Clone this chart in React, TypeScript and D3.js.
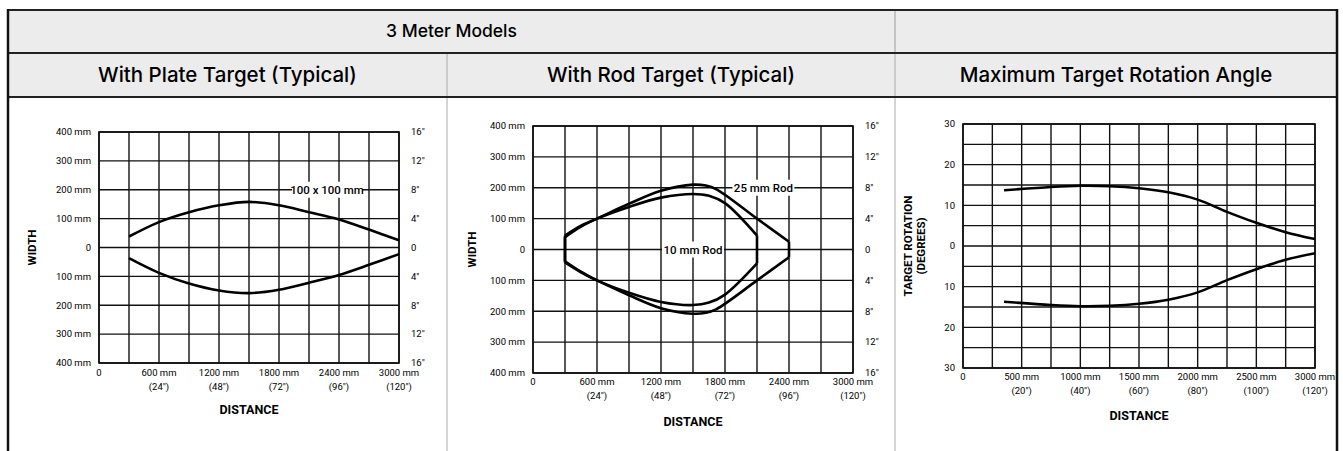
import React from 'react';
import * as d3 from 'd3';

// distance axis (plate + rod charts)
const distTicks = [0, 600, 1200, 1800, 2400, 3000];
const distMm = ['0', '600 mm', '1200 mm', '1800 mm', '2400 mm', '3000 mm'];
const distIn = ['', '(24")', '(48")', '(72")', '(96")', '(120")'];

// width axis
const widthTicks = [400, 300, 200, 100, 0, -100, -200, -300, -400];
const widthMm = ['400 mm', '300 mm', '200 mm', '100 mm', '0', '100 mm', '200 mm', '300 mm', '400 mm'];
const widthIn = ['16"', '12"', '8"', '4"', '0', '4"', '8"', '12"', '16"'];

// rotation chart axes
const rotDistTicks = [0, 500, 1000, 1500, 2000, 2500, 3000];
const rotDistMm = ['0', '500 mm', '1000 mm', '1500 mm', '2000 mm', '2500 mm', '3000 mm'];
const rotDistIn = ['', '(20")', '(40")', '(60")', '(80")', '(100")', '(120")'];
const rotTicks = [30, 20, 10, 0, -10, -20, -30];
const rotLabels = ['30', '20', '10', '0', '10', '20', '30'];

// curves: [distance mm, value]
const plateUpper = [[300, 38], [600, 88], [900, 122], [1200, 146], [1500, 158], [1800, 146], [2100, 122], [2400, 97], [2700, 62], [3000, 25]];
const plateLower = [[300, -37], [600, -88], [900, -125], [1200, -149], [1500, -158], [1800, -146], [2100, -122], [2400, -95], [2700, -60], [3000, -23]];

const rod25Upper = [[300, 45], [450, 77], [600, 100], [900, 148], [1200, 190], [1500, 210], [1620, 207], [1720, 195], [2100, 100], [2400, 25]];
const rod25Lower = [[300, -42], [450, -74], [600, -100], [900, -148], [1200, -190], [1500, -208], [1620, -205], [1720, -193], [2100, -100], [2400, -25]];
const rod10Upper = [[300, 40], [450, 74], [600, 100], [900, 138], [1200, 168], [1500, 180], [1650, 174], [1800, 150], [2100, 45]];
const rod10Lower = [[300, -38], [450, -72], [600, -100], [900, -140], [1200, -170], [1500, -180], [1650, -172], [1800, -146], [2100, -45]];

const rotUpper = [[350, 13.7], [750, 14.5], [1000, 14.8], [1250, 14.7], [1500, 14.2], [1750, 13.2], [2000, 11.4], [2250, 8.4], [2500, 5.7], [2750, 3.4], [3000, 1.7]];
const rotLower = [[350, -13.7], [750, -14.5], [1000, -14.8], [1250, -14.7], [1500, -14.2], [1750, -13.2], [2000, -11.4], [2250, -8.4], [2500, -5.7], [2750, -3.4], [3000, -1.8]];

const smallFont = 'Roboto, "Liberation Sans", Arial, sans-serif';
const headFont = 'Inter, "Liberation Sans", Arial, sans-serif';

function Chart({ left, top, width, height, xStep, yDomain, yStep, xTicks, xMm, xIn, yTicks, yLeft, yRight, curves, notes, yTitle, titleX, labelGap, distGap }) {
  const x = d3.scaleLinear().domain([0, 3000]).range([left, left + width]);
  const y = d3.scaleLinear().domain(yDomain).range([top + height, top]);
  const smooth = d3.line().x((d) => x(d[0])).y((d) => y(d[1])).curve(d3.curveCatmullRom.alpha(0.5));
  const bottom = top + height;

  return (
    <g>
      {/* grid */}
      {d3.range(0, 3000 + 1, xStep).map((v) => (
        <line key={'vx' + v} x1={x(v)} x2={x(v)} y1={top} y2={bottom} stroke="#111" strokeWidth={1.4} />
      ))}
      {d3.range(yDomain[0], yDomain[1] + 0.01, yStep).map((v) => (
        <line key={'hy' + v} x1={left} x2={left + width} y1={y(v)} y2={y(v)} stroke="#111" strokeWidth={1.4} />
      ))}
      <rect x={left} y={top} width={width} height={height} fill="none" stroke="#111" strokeWidth={1.6} />

      {/* curves */}
      {curves.map((c, i) => (
        <g key={i} fill="none" stroke="#000" strokeWidth={2.6} strokeLinejoin="round">
          <path d={smooth(c.upper)} />
          <path d={smooth(c.lower)} />
          {c.closed && (
            <>
              <line x1={x(c.upper[0][0])} y1={y(c.upper[0][1])} x2={x(c.lower[0][0])} y2={y(c.lower[0][1])} />
              <line x1={x(c.upper[c.upper.length - 1][0])} y1={y(c.upper[c.upper.length - 1][1])} x2={x(c.lower[c.lower.length - 1][0])} y2={y(c.lower[c.lower.length - 1][1])} />
            </>
          )}
        </g>
      ))}

      {/* curve labels */}
      {notes.map((n) => (
        <g key={n.text}>
          <rect x={x(n.x) - n.w / 2} y={y(n.y) - 8} width={n.w} height={16} fill="#fff" />
          <text x={x(n.x)} y={y(n.y)} dy="0.35em" textAnchor="middle" fontSize={11.5} fontWeight={500} fontFamily={smallFont}>{n.text}</text>
        </g>
      ))}

      {/* y labels */}
      {yTicks.map((v, i) => (
        <text key={'yl' + i} x={left - 8} y={y(v)} dy="0.35em" textAnchor="end" fontSize={9.5} fontFamily={smallFont}>{yLeft[i]}</text>
      ))}
      {yRight && yTicks.map((v, i) => (
        <text key={'yr' + i} x={left + width + 12} y={y(v)} dy="0.35em" fontSize={9.5} fontFamily={smallFont}>{yRight[i]}</text>
      ))}

      {/* x labels */}
      {xTicks.map((v, i) => (
        <g key={'xl' + i}>
          <text x={x(v)} y={bottom + labelGap} textAnchor="middle" fontSize={9.5} fontFamily={smallFont}>{xMm[i]}</text>
          <text x={x(v)} y={bottom + labelGap + 13.5} textAnchor="middle" fontSize={9.5} fontFamily={smallFont}>{xIn[i]}</text>
        </g>
      ))}
      <text x={left + width / 2} y={bottom + labelGap + distGap} textAnchor="middle" fontSize={12.5} fontWeight="bold" fontFamily={smallFont}>DISTANCE</text>

      {/* y title */}
      {yTitle.map((t, i) => (
        <text key={t} transform={`translate(${titleX[i]},${top + height / 2}) rotate(-90)`} textAnchor="middle" dy="0.35em" fontSize={11.5} fontWeight="bold" fontFamily={smallFont}>{t}</text>
      ))}
    </g>
  );
}

export default function App() {
  const W = 1343;
  const H = 451;
  const tableL = 8;
  const tableR = 1337;
  const col1 = 447;
  const col2 = 895;
  const row1 = 53;
  const row2 = 97;

  return (
    <svg width={W} height={H} style={{ position: 'absolute', left: 0, top: 0, display: 'block' }}>
      <rect x={0} y={0} width={W} height={H} fill="#fff" />
      {/* table header */}
      <rect x={tableL} y={10} width={tableR - tableL} height={row2 - 10} fill="#ececec" />
      <line x1={col2} x2={col2} y1={10} y2={row1} stroke="#9a9a9a" strokeWidth={1} />
      <line x1={col1} x2={col1} y1={row1} y2={H} stroke="#aaa" strokeWidth={1} />
      <line x1={col2} x2={col2} y1={row1} y2={H} stroke="#aaa" strokeWidth={1} />
      <line x1={tableL} x2={tableR} y1={10} y2={10} stroke="#222" strokeWidth={2} />
      <line x1={tableL} x2={tableR} y1={row1} y2={row1} stroke="#222" strokeWidth={1.8} />
      <line x1={tableL} x2={tableR} y1={row2} y2={row2} stroke="#222" strokeWidth={1.8} />
      <line x1={tableL} x2={tableL} y1={9} y2={H} stroke="#111" strokeWidth={2.5} />
      <line x1={tableR} x2={tableR} y1={9} y2={H} stroke="#111" strokeWidth={2.5} />

      <text x={(tableL + col2) / 2} y={37} textAnchor="middle" fontSize={17.5} fontWeight={500} fontFamily={headFont}>3 Meter Models</text>
      <text x={(tableL + col1) / 2} y={82} textAnchor="middle" fontSize={20.5} fontWeight={500} fontFamily={headFont}>With Plate Target (Typical)</text>
      <text x={(col1 + col2) / 2} y={82} textAnchor="middle" fontSize={20.5} fontWeight={500} fontFamily={headFont}>With Rod Target (Typical)</text>
      <text x={(col2 + tableR) / 2} y={82} textAnchor="middle" fontSize={20.5} fontWeight={500} fontFamily={headFont}>Maximum Target Rotation Angle</text>

      <Chart
        left={99} top={132} width={300} height={231}
        xStep={300} yDomain={[-400, 400]} yStep={100}
        xTicks={distTicks} xMm={distMm} xIn={distIn}
        yTicks={widthTicks} yLeft={widthMm} yRight={widthIn}
        curves={[{ upper: plateUpper, lower: plateLower, closed: false }]}
        notes={[{ text: '100 x 100 mm', x: 2280, y: 200, w: 70 }]}
        yTitle={['WIDTH']} titleX={[32]}
        labelGap={13} distGap={38}
      />
      <Chart
        left={533} top={126} width={320} height={247}
        xStep={300} yDomain={[-400, 400]} yStep={100}
        xTicks={distTicks} xMm={distMm} xIn={distIn}
        yTicks={widthTicks} yLeft={widthMm} yRight={widthIn}
        curves={[
          { upper: rod25Upper, lower: rod25Lower, closed: true },
          { upper: rod10Upper, lower: rod10Lower, closed: true },
        ]}
        notes={[
          { text: '25 mm Rod', x: 2160, y: 200, w: 62 },
          { text: '10 mm Rod', x: 1500, y: 0, w: 62 },
        ]}
        yTitle={['WIDTH']} titleX={[472]}
        labelGap={12} distGap={41}
      />
      <Chart
        left={963} top={124} width={352} height={244}
        xStep={250} yDomain={[-30, 30]} yStep={5}
        xTicks={rotDistTicks} xMm={rotDistMm} xIn={rotDistIn}
        yTicks={rotTicks} yLeft={rotLabels} yRight={null}
        curves={[{ upper: rotUpper, lower: rotLower, closed: false }]}
        notes={[]}
        yTitle={['TARGET ROTATION', '(DEGREES)']} titleX={[908, 921]}
        labelGap={12} distGap={40}
      />
    </svg>
  );
}
